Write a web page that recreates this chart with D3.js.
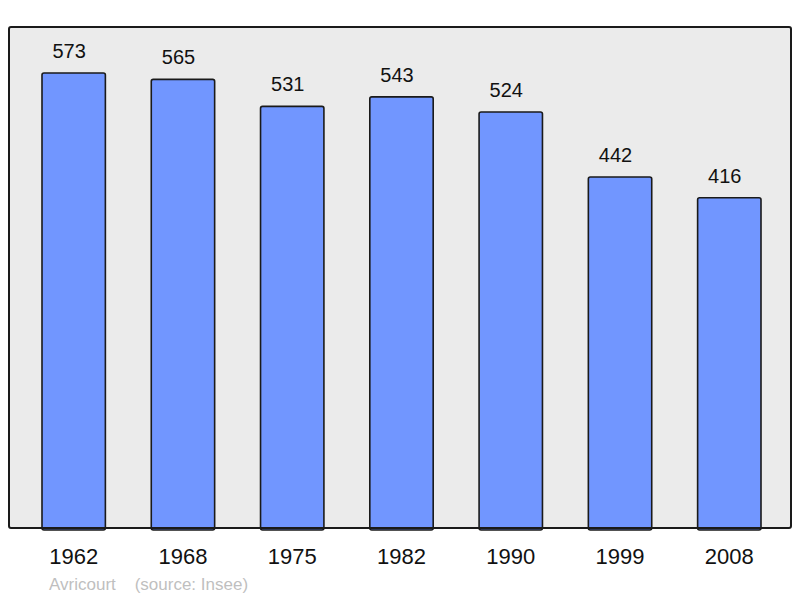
<!DOCTYPE html>
<html><head><meta charset="utf-8">
<script src="https://cdn.jsdelivr.net/npm/d3@7"></script>
<style>body{margin:0;background:#fff}svg{display:block}</style>
</head><body>
<svg id="c" width="800" height="598"></svg>
<script>
const years = ["1962","1968","1975","1982","1990","1999","2008"];
const population = [573,565,531,543,524,442,416];
const title = "Avricourt";
const source = "(source: Insee)";

const svg = d3.select("#c");
const font = "Liberation Sans, Arial, sans-serif";
const frame = {x0: 9, y0: 27, x1: 791, y1: 528};

svg.append("rect").attr("x", frame.x0).attr("y", frame.y0)
  .attr("width", frame.x1 - frame.x0).attr("height", frame.y1 - frame.y0)
  .attr("rx", 2).attr("fill", "#ebebeb").attr("stroke", "none");

const x = d3.scaleBand().domain(years).range([42, 761]).paddingInner(0.42).paddingOuter(0);
const y = d3.scaleLinear().domain([0, 631]).range([frame.y1, frame.y0]);

const data = years.map((yr, i) => ({yr, v: population[i]}));

svg.selectAll("rect.bar").data(data).enter().append("rect")
  .attr("class", "bar")
  .attr("x", d => x(d.yr)).attr("y", d => y(d.v))
  .attr("width", x.bandwidth()).attr("height", d => frame.y1 - y(d.v) + 2)
  .attr("rx", 2)
  .attr("fill", "#7196ff").attr("stroke", "#1a1a1a").attr("stroke-width", 1.6);

svg.selectAll("text.val").data(data).enter().append("text")
  .attr("class", "val")
  .attr("x", d => x(d.yr) + x.bandwidth() / 2 - 4.5).attr("y", d => y(d.v) - 15)
  .attr("text-anchor", "middle").attr("font-family", font).attr("font-size", 20)
  .attr("fill", "#111").text(d => d.v);

// frame outline on top
svg.append("rect").attr("x", frame.x0).attr("y", frame.y0)
  .attr("width", frame.x1 - frame.x0).attr("height", frame.y1 - frame.y0)
  .attr("rx", 2).attr("fill", "none").attr("stroke", "#1a1a1a").attr("stroke-width", 2);

const xAxis = d3.axisBottom(x).tickSize(0).tickPadding(0);
const ax = svg.append("g").attr("transform", `translate(0,${frame.y1})`).call(xAxis);
ax.select(".domain").remove();
ax.selectAll("text").attr("font-family", font).attr("font-size", 22)
  .attr("fill", "#111").attr("dy", null).attr("y", 36);

svg.append("text").attr("x", 49).attr("y", 590)
  .attr("font-family", font).attr("font-size", 17).attr("fill", "#bfbfbf")
  .attr("xml:space", "preserve")
  .text(title + "    " + source);
</script>
</body></html>
